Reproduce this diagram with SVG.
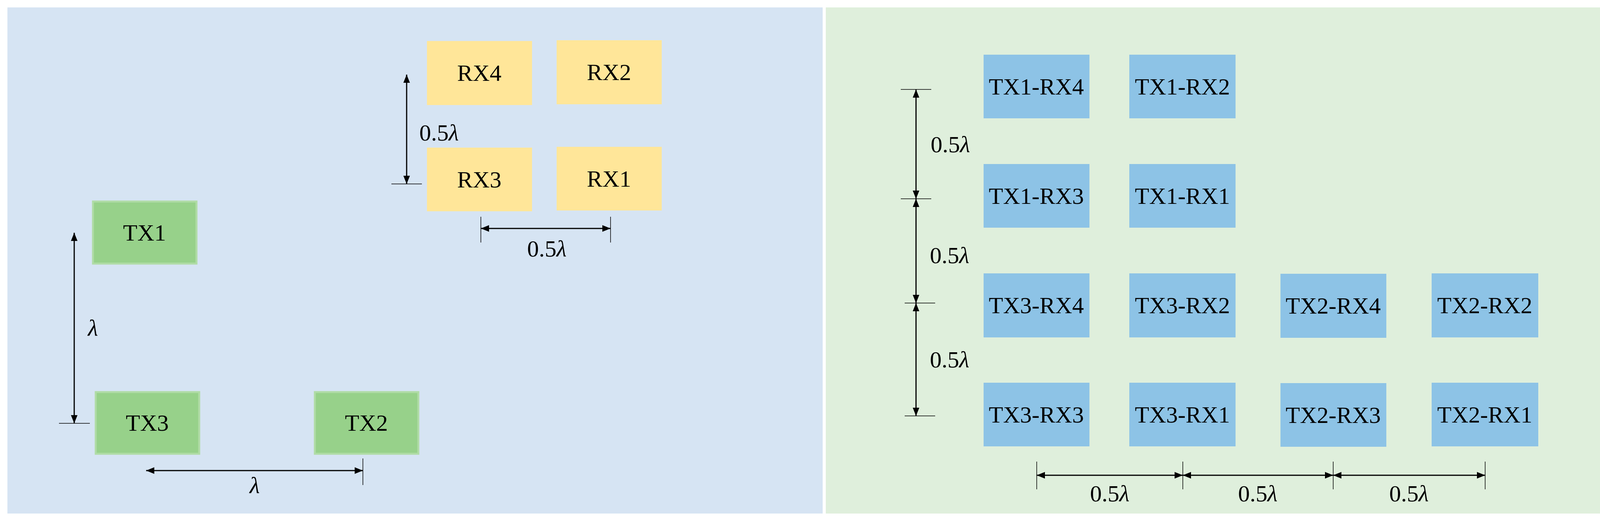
<svg xmlns="http://www.w3.org/2000/svg" width="4234" height="1329" viewBox="0 0 4234 1329">
<style>
text{font-family:"Liberation Serif","DejaVu Serif",serif;font-size:60px;fill:#000;text-anchor:middle;dominant-baseline:central}
.rx{fill:#ffe699}
.tx{fill:#97d18a;stroke:#b0dca6;stroke-width:5}
.v{fill:#8dc3e6}
.d{stroke:#000;stroke-width:3;fill:none;marker-start:url(#a);marker-end:url(#a)}
.t{stroke:#000;stroke-width:1.5}
.l{dominant-baseline:auto}
</style>
<defs><marker id="a" viewBox="0 0 10 10" refX="10" refY="5" markerWidth="7" markerHeight="7" orient="auto-start-reverse" markerUnits="strokeWidth"><path d="M0,1L10,5L0,9z" fill="#000"/></marker></defs>
<rect width="4234" height="1329" fill="#fff"/>
<rect x="19" y="19" width="2087" height="1296" fill="#d6e4f3"/>
<rect x="2114" y="19" width="2098" height="1296" fill="#dfefdc"/>
<g id="RX4"><rect class="rx" x="1093" y="105" width="269" height="164"/><text x="1227" y="187">RX4</text></g>
<g id="RX2"><rect class="rx" x="1425" y="103" width="269" height="164"/><text x="1559" y="185">RX2</text></g>
<g id="RX3"><rect class="rx" x="1093" y="378" width="269" height="163"/><text x="1227" y="460">RX3</text></g>
<g id="RX1"><rect class="rx" x="1425" y="376" width="269" height="163"/><text x="1559" y="458">RX1</text></g>
<g id="TX1"><rect class="tx" x="238" y="516" width="265" height="159"/><text x="370" y="596">TX1</text></g>
<g id="TX3"><rect class="tx" x="245" y="1004" width="265" height="158"/><text x="377" y="1083">TX3</text></g>
<g id="TX2"><rect class="tx" x="806" y="1004" width="265" height="158"/><text x="938" y="1083">TX2</text></g>
<g id="C11"><rect class="v" x="2518" y="140" width="271" height="163"/><text x="2653" y="222">TX1-RX4</text></g>
<g id="C12"><rect class="v" x="2891" y="140" width="272" height="163"/><text x="3027" y="222">TX1-RX2</text></g>
<g id="C21"><rect class="v" x="2518" y="420" width="271" height="163"/><text x="2653" y="502">TX1-RX3</text></g>
<g id="C22"><rect class="v" x="2891" y="420" width="272" height="163"/><text x="3027" y="502">TX1-RX1</text></g>
<g id="C31"><rect class="v" x="2518" y="700" width="271" height="164"/><text x="2653" y="782">TX3-RX4</text></g>
<g id="C32"><rect class="v" x="2891" y="700" width="272" height="164"/><text x="3027" y="782">TX3-RX2</text></g>
<g id="C33"><rect class="v" x="3278" y="701" width="271" height="164"/><text x="3413" y="783">TX2-RX4</text></g>
<g id="C34"><rect class="v" x="3665" y="700" width="273" height="164"/><text x="3801" y="782">TX2-RX2</text></g>
<g id="C41"><rect class="v" x="2518" y="980" width="271" height="163"/><text x="2653" y="1062">TX3-RX3</text></g>
<g id="C42"><rect class="v" x="2891" y="980" width="272" height="163"/><text x="3027" y="1062">TX3-RX1</text></g>
<g id="C43"><rect class="v" x="3278" y="981" width="271" height="163"/><text x="3413" y="1063">TX2-RX3</text></g>
<g id="C44"><rect class="v" x="3665" y="980" width="273" height="163"/><text x="3801" y="1062">TX2-RX1</text></g>
<g id="connectors">
<line class="d" x1="1041" y1="191" x2="1041" y2="471"/><line class="t" x1="1002" y1="471" x2="1080" y2="471"/>
<line class="d" x1="1231" y1="585" x2="1563" y2="585"/><line class="t" x1="1231" y1="555" x2="1231" y2="621"/><line class="t" x1="1563" y1="555" x2="1563" y2="621"/>
<line class="d" x1="190" y1="596" x2="190" y2="1084"/><line class="t" x1="151" y1="1084" x2="230" y2="1084"/>
<line class="d" x1="374" y1="1205" x2="929" y2="1205"/><line class="t" x1="929" y1="1174" x2="929" y2="1242"/>
<line class="d" x1="2345" y1="229" x2="2345" y2="509"/><line class="d" x1="2345" y1="509" x2="2345" y2="776"/><line class="d" x1="2345" y1="776" x2="2345" y2="1065"/>
<line class="t" x1="2306" y1="229" x2="2384" y2="229"/><line class="t" x1="2306" y1="509" x2="2384" y2="509"/><line class="t" x1="2316" y1="776" x2="2394" y2="776"/><line class="t" x1="2316" y1="1065" x2="2394" y2="1065"/>
<line class="d" x1="2654" y1="1217" x2="3028" y2="1217"/><line class="d" x1="3028" y1="1217" x2="3413" y2="1217"/><line class="d" x1="3413" y1="1217" x2="3802" y2="1217"/>
<line class="t" x1="2654" y1="1182" x2="2654" y2="1253"/><line class="t" x1="3028" y1="1182" x2="3028" y2="1253"/><line class="t" x1="3413" y1="1182" x2="3413" y2="1253"/><line class="t" x1="3802" y1="1182" x2="3802" y2="1253"/>
</g>
<g id="labels">
<text class="l" x="1124" y="360">0.5<tspan font-style="italic">λ</tspan></text>
<text class="l" x="1400" y="657">0.5<tspan font-style="italic">λ</tspan></text>
<text class="l" x="238" y="860" font-style="italic">λ</text>
<text class="l" x="652" y="1263" font-style="italic">λ</text>
<text class="l" x="2433" y="390">0.5<tspan font-style="italic">λ</tspan></text>
<text class="l" x="2431" y="674">0.5<tspan font-style="italic">λ</tspan></text>
<text class="l" x="2431" y="941">0.5<tspan font-style="italic">λ</tspan></text>
<text class="l" x="2841" y="1284">0.5<tspan font-style="italic">λ</tspan></text>
<text class="l" x="3220" y="1284">0.5<tspan font-style="italic">λ</tspan></text>
<text class="l" x="3607" y="1284">0.5<tspan font-style="italic">λ</tspan></text>
</g>
</svg>
